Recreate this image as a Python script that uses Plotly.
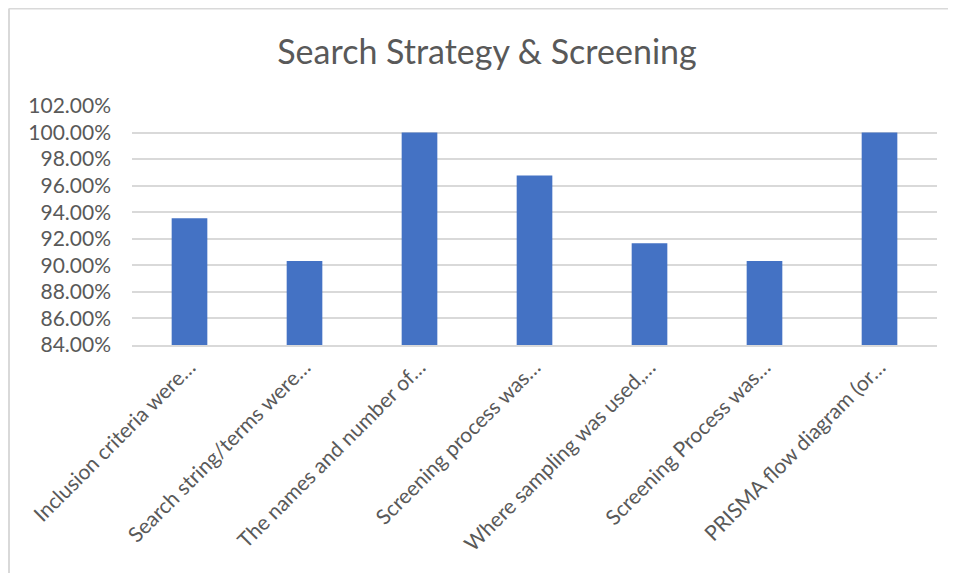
import plotly.graph_objects as go

categories = [
    "Inclusion criteria were…",
    "Search string/terms were…",
    "The names and number of…",
    "Screening process was…",
    "Where sampling was used,…",
    "Screening Process was…",
    "PRISMA flow diagram (or…",
]
values = [0.9355, 0.9032, 1.0, 0.9677, 0.9167, 0.9032, 1.0]
tick_vals = [0.84, 0.86, 0.88, 0.90, 0.92, 0.94, 0.96, 0.98, 1.00, 1.02]
tick_text = ["84.00%", "86.00%", "88.00%", "90.00%", "92.00%", "94.00%",
             "96.00%", "98.00%", "100.00%", "102.00%"]

# page has an 8px body margin; figure coordinates are page coords minus 8
OFF = 8
W, H = 956 - 2 * OFF, 581 - 2 * OFF
L, T = 132 - OFF, 106 - OFF
R = W - (937 - OFF)
B = H - (345 - OFF)
pw = W - L - R
ph = H - T - B

fig = go.Figure(go.Bar(
    x=categories, y=values, marker_color="#4472C4",
    marker_line_width=0, width=0.31,
))

font = "Lato, Open Sans, sans-serif"
fig.update_layout(
    width=W, height=H,
    margin=dict(l=L, r=R, t=T, b=B),
    paper_bgcolor="white", plot_bgcolor="white",
    title=dict(text="Search Strategy & Screening", x=(487 - OFF) / W, xref="container",
               xanchor="center", y=1 - (52 - OFF) / H, yref="container", yanchor="middle",
               font=dict(family=font, size=34, color="#595959")),
    font=dict(family=font, color="#595959"),
    showlegend=False,
    bargap=0.69,
)
fig.update_yaxes(range=[0.84, 1.02], tickvals=tick_vals, ticktext=tick_text,
                 showgrid=True, gridcolor="#D9D9D9", gridwidth=1.5,
                 zeroline=False, tickfont=dict(size=21, color="#595959"),
                 ticks="", ticklen=0, showline=False, ticklabelstandoff=20)
fig.update_xaxes(tickangle=-45, tickfont=dict(size=21, color="#595959"),
                 showline=True, linecolor="#D9D9D9", linewidth=1.5,
                 ticks="", showgrid=False)

# chart outer border (top & left)
x_left = (1 - L) / pw
y_top = 1 + (T - 0.5) / ph
y_bot = -(H - T) / ph
x_right = 1 + R / pw
fig.add_shape(type="line", xref="paper", yref="paper", x0=x_left, x1=x_right,
              y0=y_top, y1=y_top, line=dict(color="#D9D9D9", width=2))
fig.add_shape(type="line", xref="paper", yref="paper", x0=x_left, x1=x_left,
              y0=y_bot, y1=y_top, line=dict(color="#D9D9D9", width=2))

fig.write_html("out.html")
